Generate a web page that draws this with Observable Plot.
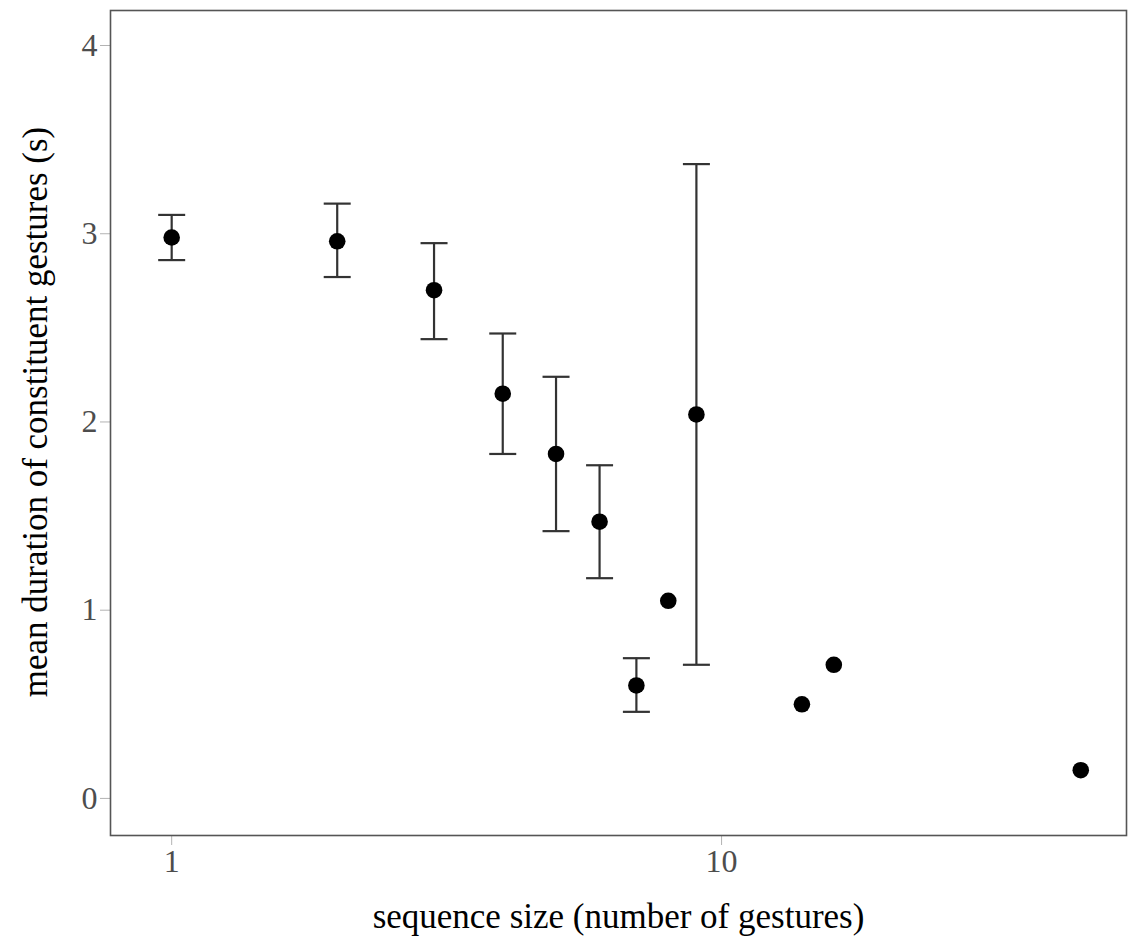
<!DOCTYPE html>
<html>
<head>
<meta charset="utf-8">
<script src="https://cdn.jsdelivr.net/npm/d3@7"></script>
<script src="https://cdn.jsdelivr.net/npm/@observablehq/plot@0.6"></script>
<style>
  html, body { margin: 0; padding: 0; background: white; }
  #chart svg { display: block; }
</style>
</head>
<body>
<div id="chart"></div>
<script>
// Sequence size (number of gestures)
const sizes = [1, 2, 3, 4, 5, 6, 7, 8, 9, 14, 16, 45];
// Mean duration of constituent gestures (s)
const means = [2.98, 2.96, 2.70, 2.15, 1.83, 1.47, 0.60, 1.05, 2.04, 0.50, 0.71, 0.15];
// Error bar bounds (null = no error bar)
const lower = [2.86, 2.77, 2.44, 1.83, 1.42, 1.17, 0.46, null, 0.71, null, null, null];
const upper = [3.10, 3.16, 2.95, 2.47, 2.24, 1.77, 0.745, null, 3.37, null, null, null];

const xTicks = [1, 10];
const yTicks = [0, 1, 2, 3, 4];
const xLabel = "sequence size (number of gestures)";
const yLabel = "mean duration of constituent gestures (s)";

const points = sizes.map((s, i) => ({size: s, mean: means[i], lo: lower[i], hi: upper[i]}));
const bars = points.filter(d => d.lo != null && d.hi != null);
const caps = bars.flatMap(d => [{size: d.size, v: d.lo}, {size: d.size, v: d.hi}]);

const capSymbol = {
  draw(context) {
    context.moveTo(-13.5, 0);
    context.lineTo(13.5, 0);
  }
};

const chart = Plot.plot({
  width: 1134,
  height: 943,
  marginLeft: 110,
  marginRight: 8,
  marginTop: 10,
  marginBottom: 108,
  style: {fontFamily: "'Liberation Serif', 'DejaVu Serif', serif", background: "white"},
  x: {type: "log", domain: [0.774, 54.5]},
  y: {domain: [-0.197, 4.186]},
  marks: [
    Plot.axisX({ticks: xTicks, tickFormat: d => String(d), tickSize: 10, tickPadding: 4,
      fontSize: 32, stroke: "#b3b3b3", fill: "#4d4d4d", label: null}),
    Plot.axisY({ticks: yTicks, tickFormat: d => String(d), tickSize: 10, tickPadding: 3,
      fontSize: 32, stroke: "#b3b3b3", fill: "#4d4d4d", label: null}),
    Plot.frame({stroke: "#555", strokeWidth: 1.6}),
    Plot.ruleX(bars, {x: "size", y1: "lo", y2: "hi", stroke: "#333", strokeWidth: 2.2}),
    Plot.dot(caps, {x: "size", y: "v", symbol: capSymbol, stroke: "#333", strokeWidth: 2.2, fill: "none"}),
    Plot.dot(points, {x: "size", y: "mean", r: 8.3, fill: "black", stroke: "none"}),
    Plot.text([xLabel], {text: d => d, frameAnchor: "bottom", dy: 81, fontSize: 35, fill: "black", lineAnchor: "middle"}),
    Plot.text([yLabel], {text: d => d, frameAnchor: "left", textAnchor: "middle", dx: -75, dy: -11, rotate: -90, fontSize: 35, fill: "black", lineAnchor: "middle"})
  ]
});

document.getElementById("chart").appendChild(chart);
</script>
</body>
</html>
